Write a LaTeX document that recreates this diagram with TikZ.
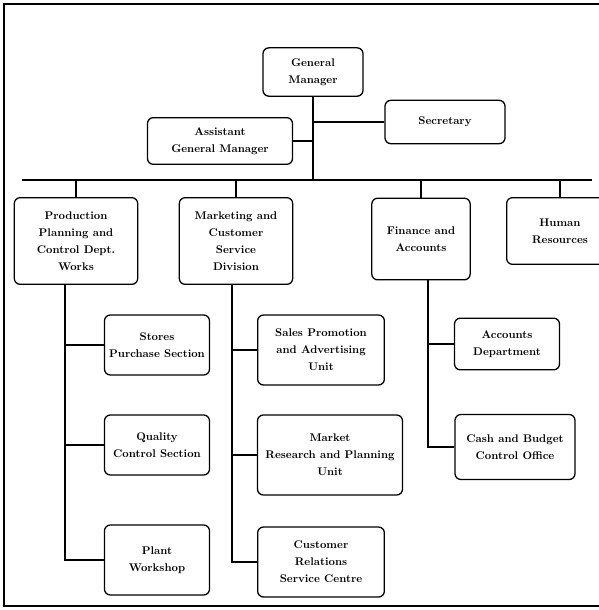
\documentclass[tikz,border=0pt]{standalone}
\usepackage{tikz}
\usetikzlibrary{calc}
\tikzset{
    unit/.style={draw, line width=1.1pt, rounded corners=5pt, align=center,
        font=\fontsize{9.5}{14.5}\selectfont\bfseries, inner sep=2pt},
    link/.style={line width=1.3pt}
}

\begin{document}
\begin{tikzpicture}[x=0.03cm,y=-0.03cm]
\useasboundingbox (0,0) rectangle (599,610);
\draw[line width=1.5pt] (599,4) -- (4,4) -- (4,606) -- (599,606);

\node[unit, minimum width=3.0cm, minimum height=1.45cm] (gm) at (313,72)
    {General\\Manager};
\node[unit, minimum width=3.6cm, minimum height=1.3cm] (sec) at (445,122) {Secretary};
\node[unit, minimum width=4.35cm, minimum height=1.4cm] (agm) at (220,141)
    {Assistant\\General Manager};

\node[unit, minimum width=3.7cm, minimum height=2.6cm] (prod) at (76,241)
    {Production\\Planning and\\Control Dept.\\Works};
\node[unit, minimum width=3.4cm, minimum height=2.6cm] (mkt) at (236,241)
    {Marketing and\\Customer\\Service\\Division};
\node[unit, minimum width=2.95cm, minimum height=2.45cm] (fin) at (421,239)
    {Finance and\\Accounts};
\node[unit, minimum width=3.2cm, minimum height=2.0cm] (hr) at (560,231)
    {Human\\Resources};
%%
\node[unit, minimum width=3.15cm, minimum height=1.8cm] (st) at (157,345)
    {Stores\\Purchase Section};
\node[unit, minimum width=3.15cm, minimum height=1.8cm] (qc) at (157,445)
    {Quality\\Control Section};
\node[unit, minimum width=3.15cm, minimum height=2.1cm] (pw) at (157,560)
    {Plant\\Workshop};
%%
\node[unit, minimum width=3.8cm, minimum height=2.1cm] (sp) at (321,350)
    {Sales Promotion\\and Advertising\\Unit};
\node[unit, minimum width=4.35cm, minimum height=2.4cm] (mr) at (330,455)
    {Market\\Research and Planning\\Unit};
\node[unit, minimum width=3.8cm, minimum height=2.1cm] (cr) at (321,562)
    {Customer\\Relations\\Service Centre};
%%
\node[unit, minimum width=3.15cm, minimum height=1.55cm] (ac) at (507,344)
    {Accounts\\Department};
\node[unit, minimum width=3.6cm, minimum height=1.95cm] (cb) at (515,447)
    {Cash and Budget\\Control Office};

% trunk and bus
\coordinate (bus) at (313,180);
\coordinate (busL) at (22,180);
\coordinate (busR) at (592,180);
\draw[link] (gm.south) -- (bus);
\draw[link] (gm.south |- sec.west) -- (sec.west);
\draw[link] (agm.east) -- (agm.east -| gm.south);
\draw[link] (busL) -- (busR);
\draw[link] (prod.north |- bus) -- (prod.north);
\draw[link] (mkt.north |- bus) -- (mkt.north);
\draw[link] (fin.north |- bus) -- (fin.north);
\draw[link] (hr.north |- bus) -- (hr.north);

% spines
\coordinate (P) at (65,285);
\coordinate (M) at (232,285);
\coordinate (F) at (428,280);
\draw[link] (P) |- (st.west);
\draw[link] (P) |- (qc.west);
\draw[link] (P) |- (pw.west);
\draw[link] (M) |- (sp.west);
\draw[link] (M) |- (mr.west);
\draw[link] (M) |- (cr.west);
\draw[link] (F) |- (ac.west);
\draw[link] (F) |- (cb.west);
\end{tikzpicture}
\end{document}
